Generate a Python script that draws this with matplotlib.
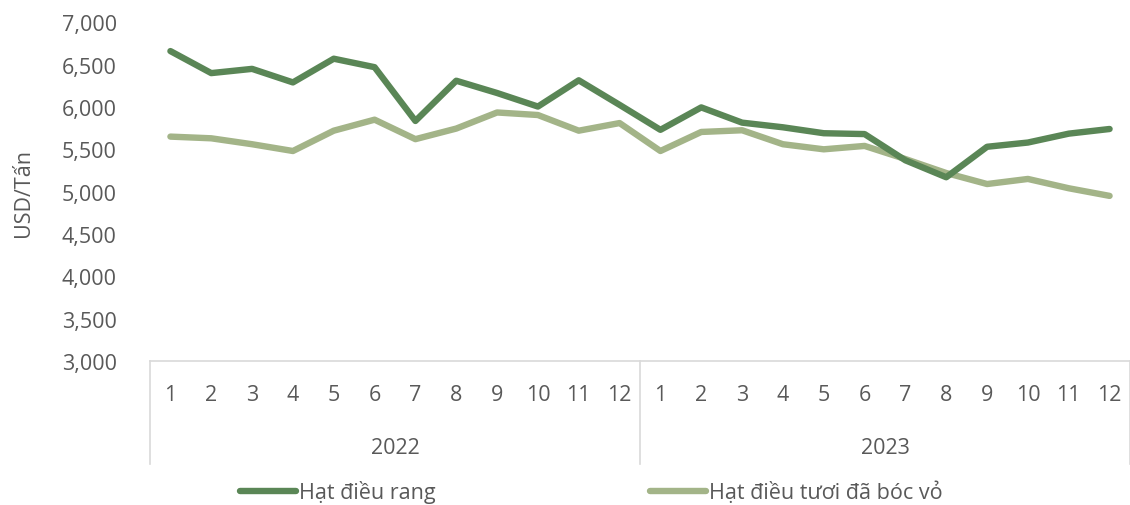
import matplotlib
matplotlib.use("Agg")
import matplotlib.pyplot as plt
import matplotlib.transforms as mtransforms

# Giá xuất khẩu hạt điều theo tháng (USD/Tấn)
years = ["2022", "2023"]
months = [str(m) for m in range(1, 13)]
hat_dieu_rang = [6660, 6400, 6450, 6290, 6570, 6470, 5835, 6310, 6165, 6005, 6315, 6025,
                 5730, 5995, 5815, 5760, 5690, 5680, 5370, 5170, 5530, 5580, 5685, 5740]
hat_dieu_tuoi = [5650, 5630, 5560, 5480, 5720, 5850, 5620, 5745, 5935, 5905, 5720, 5810,
                 5480, 5705, 5725, 5560, 5500, 5540, 5385, 5220, 5090, 5150, 5040, 4950]
yticks = list(range(3000, 7001, 500))

text_color = "#595959"
line_gray = "#d9d9d9"
fs = 15.5
plt.rcParams["font.family"] = ["Open Sans", "DejaVu Sans"]

fig = plt.figure(figsize=(11.3, 5.06), dpi=100)
ax = fig.add_axes([150 / 1130, 1 - 362 / 506, 980 / 1130, (362 - 23.3) / 506])

n = len(hat_dieu_rang)
x = [i + 0.5 for i in range(n)]
l1, = ax.plot(x, hat_dieu_rang, color="#5a8656", lw=4.6, solid_capstyle="round",
              solid_joinstyle="round", label="Hạt điều rang")
l2, = ax.plot(x, hat_dieu_tuoi, color="#a3b488", lw=4.6, solid_capstyle="round",
              solid_joinstyle="round", label="Hạt điều tươi đã bóc vỏ", zorder=1)

ax.set_xlim(0, n)
ax.set_ylim(3000, 7000)
ax.set_yticks(yticks)
ax.set_yticklabels([f"{v:,}" for v in yticks])
ax.tick_params(axis="y", length=0, pad=24, labelsize=fs, labelcolor=text_color)
ax.set_xticks([])
for side in ["top", "right", "left"]:
    ax.spines[side].set_visible(False)
ax.spines["bottom"].set_color(line_gray)
ax.spines["bottom"].set_linewidth(1.2)
ax.set_ylabel("USD/Tấn", fontsize=fs, color=text_color, labelpad=20)

# Trục phân loại hai cấp: tháng và năm
trans = mtransforms.blended_transform_factory(ax.transData, ax.transAxes)
ax_h = 362 - 23.3
for i in range(n):
    ax.text(x[i], -34 / ax_h, months[i % 12], transform=trans, ha="center", va="center",
            fontsize=fs, color=text_color)
for k, year in enumerate(years):
    ax.text(12 * k + 6, -87 / ax_h, year, transform=trans, ha="center", va="center",
            fontsize=fs, color=text_color)
for xs in [0, 12, 24]:
    ax.plot([xs, xs], [0, -103 / ax_h], transform=trans, color=line_gray, lw=1.2,
            clip_on=False)

# Chú thích
for handle, xpos in [(l1, 240 / 1130), (l2, 650 / 1130)]:
    fig.legend(handles=[handle], loc="center left", bbox_to_anchor=(xpos, 1 - 493 / 506),
               frameon=False, fontsize=fs, handlelength=2.6, handletextpad=0.12,
               borderpad=0, borderaxespad=0, labelcolor=text_color)

fig.savefig("out.png", dpi=100)
